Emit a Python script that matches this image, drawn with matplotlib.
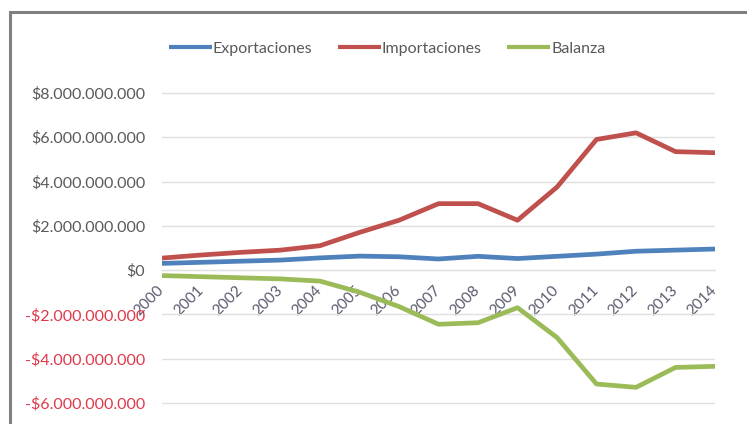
import matplotlib
matplotlib.use("Agg")
import matplotlib.pyplot as plt
from matplotlib.patches import Rectangle
from matplotlib.ticker import FuncFormatter

plt.rcParams["font.family"] = ["Lato", "DejaVu Sans"]

years = [str(y) for y in range(2000, 2015)]
exportaciones = [0.30, 0.35, 0.40, 0.45, 0.55, 0.63, 0.60, 0.50, 0.62, 0.52,
                 0.62, 0.72, 0.85, 0.90, 0.95]
importaciones = [0.54, 0.68, 0.80, 0.90, 1.10, 1.70, 2.25, 3.00, 3.00, 2.25,
                 3.75, 5.90, 6.20, 5.35, 5.30]
balanza = [-0.25, -0.30, -0.35, -0.40, -0.50, -1.00, -1.65, -2.45, -2.38, -1.70,
           -3.05, -5.15, -5.30, -4.40, -4.35]
y_ticks = [-6, -4, -2, 0, 2, 4, 6, 8]  # miles de millones

scale = 1e9
fig = plt.figure(figsize=(7.47, 4.24), dpi=100)
ax = fig.add_axes([0.2169, 0.0238, 0.7403, 0.783])

colors = {"Exportaciones": "#4f81bd", "Importaciones": "#c0504d", "Balanza": "#9bbb59"}
x = range(len(years))
for name, vals in [("Exportaciones", exportaciones),
                   ("Importaciones", importaciones),
                   ("Balanza", balanza)]:
    ax.plot(x, [v * scale for v in vals], color=colors[name], lw=3.4,
            solid_joinstyle="round", solid_capstyle="butt", label=name, zorder=3)

ax.set_xlim(0, len(years) - 1)
ax.set_ylim(-6.5 * scale, 8.5 * scale)
ax.set_yticks([t * scale for t in y_ticks])


def money(v, pos):
    n = int(round(v))
    s = f"{abs(n):,}".replace(",", ".")
    return f"-${s}" if n < 0 else f"${s}"


ax.yaxis.set_major_formatter(FuncFormatter(money))
ax.grid(axis="y", color="#e0e0e0", lw=1.0, zorder=0)
for sp in ["top", "right", "left"]:
    ax.spines[sp].set_visible(False)
ax.spines["bottom"].set_position(("data", 0))
ax.spines["bottom"].set_color("#e0e0e0")

ax.set_xticks(list(x))
ax.set_xticklabels(years, rotation=45, ha="right", va="center",
                   rotation_mode="anchor", color="#5a5a6e", fontsize=11)
ax.tick_params(axis="x", length=0, pad=13)
ax.tick_params(axis="y", length=0, pad=12, labelsize=11.5)
for lbl, t in zip(ax.get_yticklabels(), y_ticks):
    lbl.set_color("#e0384a" if t < 0 else "#595959")

leg = fig.legend(loc="center", bbox_to_anchor=(0.518, 0.885), ncol=3, frameon=False,
                 fontsize=11.5, handlelength=2.7, handletextpad=0.05,
                 columnspacing=1.6, labelcolor="#595959")
for h in leg.get_lines():
    h.set_linewidth(3.0)

# marco gris alrededor del gráfico
fig.patches.append(Rectangle((10 / 747, -0.1), 1.2, 1.0 - 12 / 424 + 0.1,
                             transform=fig.transFigure, fill=False,
                             edgecolor="#808080", lw=2.2))

fig.savefig("out.png", dpi=100, facecolor="white")
